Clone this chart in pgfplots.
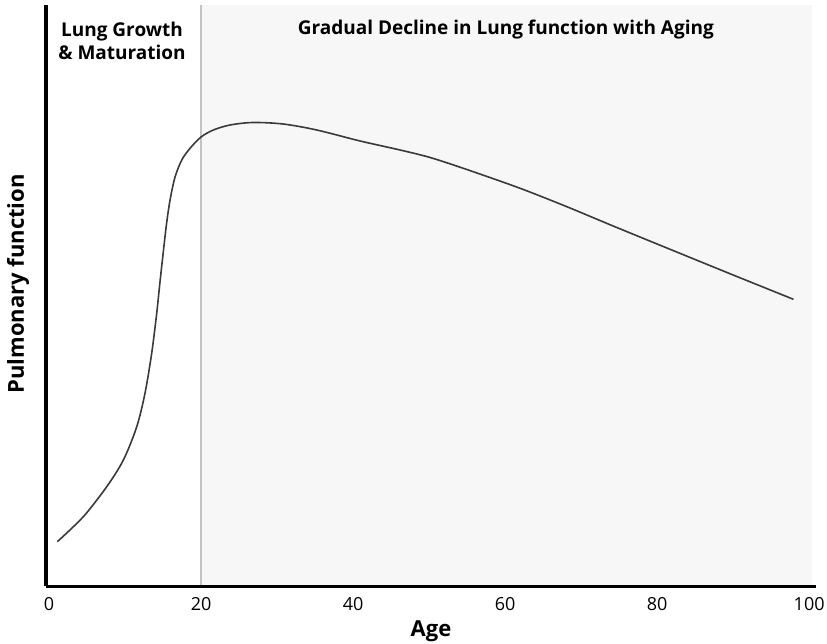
\documentclass[border=0pt]{standalone}
\usepackage{fontspec}
\setmainfont{Open Sans}
\usepackage{pgfplots}
\pgfplotsset{compat=1.18}
\definecolor{bgshade}{HTML}{F7F7F7}
\definecolor{vline}{HTML}{C4C4C4}
\definecolor{curvec}{HTML}{3A3A3A}
\begin{document}
\begin{tikzpicture}
\useasboundingbox (-46bp,-58bp) rectangle (781bp,586bp);
\begin{axis}[
  at={(0,0)}, anchor=south west,
  scale only axis, width=770bp, height=581bp,
  xmin=-0.4, xmax=100.9, ymin=0, ymax=581,
  axis x line*=bottom, axis y line*=left,
  axis line style={line width=3bp, black},
  axis on top,
  clip=false,
  ytick=\empty,
  xtick={0,20,40,60,80,100},
  major tick length=0pt,
  /pgf/number format/assume math mode=true,
  xticklabel style={font=\fontsize{18bp}{21bp}\selectfont, yshift=-8bp},
  xlabel={Age},
  ylabel={Pulmonary function},
  xlabel style={font=\bfseries\fontsize{22bp}{26bp}\selectfont, at={(axis description cs:0.5,0)}, anchor=center, yshift=-45bp},
  ylabel style={font=\bfseries\fontsize{22bp}{26bp}\selectfont, at={(axis description cs:0,0.52)}, anchor=center, yshift=28bp},
]
\fill[bgshade] (axis cs:20,0) rectangle (axis cs:100.4,581);
\draw[vline, line width=1.8bp] (axis cs:20,0) -- (axis cs:20,581);
\addplot[curvec, line width=1.6bp, smooth, tension=0.5] coordinates {
(1.09,44.3) (4.51,69.3) (7.59,99.3) (9.78,126) (11.54,159.3) (12.63,193)
(13.51,233) (14.17,273) (14.61,305) (15.39,358) (15.92,386) (16.58,409)
(17.46,426) (18.55,437.7) (20.0,449) (21.62,456) (23.82,461) (26.84,463.5)
(30.79,462) (35.22,456) (40.92,445) (46.18,436) (50.13,428.5) (54.96,416.5)
(61.97,397.7) (68.12,379.3) (74.21,360) (81.28,338) (90.0,311) (97.93,286.7)
};
\node[font=\bfseries\fontsize{19bp}{23bp}\selectfont, align=center] at (axis cs:9.6,545) {Lung Growth\\\& Maturation};
\node[font=\bfseries\fontsize{19bp}{23bp}\selectfont] at (axis cs:60.1,556) {Gradual Decline in Lung function with Aging};
\end{axis}
\end{tikzpicture}
\end{document}
